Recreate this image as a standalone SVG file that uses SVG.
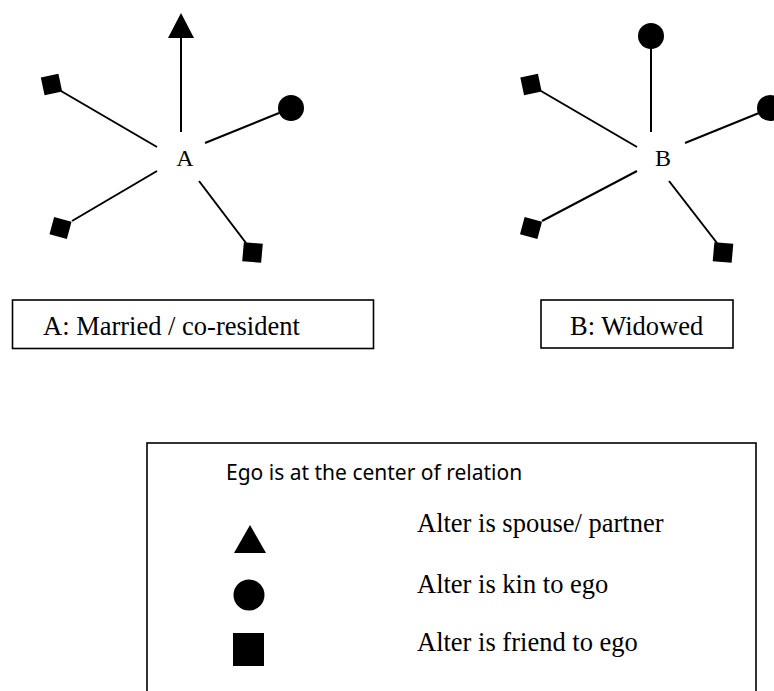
<svg xmlns="http://www.w3.org/2000/svg" width="774" height="691" viewBox="0 0 774 691">
  <style>
    .edge { stroke: #000; stroke-width: 2; fill: none; }
    .sq { fill: #000; }
    .dot { fill: #000; }
    .box { fill: #fff; stroke: #000; stroke-width: 1.6; }
    .serif { font-family: "Liberation Serif", "Times New Roman", serif; fill: #000; }
    .lbl { font-size: 26.5px; }
    .sans { font-family: "Noto Sans", "Open Sans", sans-serif; fill: #000; }
  </style>
  <rect width="774" height="691" fill="#fff"/>

  <g id="connectors">
    <line class="edge" x1="181" y1="132" x2="181" y2="36"/>
    <line class="edge" x1="157" y1="147" x2="61" y2="91"/>
    <line class="edge" x1="205" y1="143" x2="279" y2="113"/>
    <line class="edge" x1="157" y1="171" x2="72" y2="221"/>
    <line class="edge" x1="199" y1="181" x2="246" y2="243"/>

    <line class="edge" x1="651" y1="132" x2="651" y2="48"/>
    <line class="edge" x1="637" y1="147" x2="541" y2="91"/>
    <line class="edge" x1="685" y1="143" x2="759" y2="113"/>
    <line class="edge" x1="637" y1="171" x2="542" y2="221"/>
    <line class="edge" x1="669" y1="181" x2="717" y2="243"/>
  </g>

  <g id="ego-A">
    <text class="serif" x="185" y="166" font-size="24" text-anchor="middle">A</text>
  </g>
  <g id="A-spouse"><polygon class="dot" points="181,13 168,38 194,38"/></g>
  <g id="A-friend-1"><rect class="sq" x="-9" y="-9" width="18" height="18" transform="translate(51.5,84.5) rotate(-12)"/></g>
  <g id="A-kin-1"><circle class="dot" cx="291" cy="108" r="13"/></g>
  <g id="A-friend-2"><rect class="sq" x="-9" y="-9" width="18" height="18" transform="translate(60.5,228) rotate(15)"/></g>
  <g id="A-friend-3"><rect class="sq" x="-9.5" y="-9.5" width="19" height="19" transform="translate(252.5,252.5) rotate(5)"/></g>

  <g id="ego-B">
    <text class="serif" x="663" y="166" font-size="24" text-anchor="middle">B</text>
  </g>
  <g id="B-kin-1"><circle class="dot" cx="651" cy="36" r="13"/></g>
  <g id="B-friend-1"><rect class="sq" x="-9" y="-9" width="18" height="18" transform="translate(531,84.5) rotate(-12)"/></g>
  <g id="B-kin-2"><circle class="dot" cx="770" cy="108" r="13"/></g>
  <g id="B-friend-2"><rect class="sq" x="-9" y="-9" width="18" height="18" transform="translate(531,228) rotate(15)"/></g>
  <g id="B-friend-3"><rect class="sq" x="-9.5" y="-9.5" width="19" height="19" transform="translate(723,252.5) rotate(5)"/></g>

  <g id="label-A">
    <rect class="box" x="12.5" y="300" width="361" height="48.5"/>
    <text class="serif lbl" x="43" y="335">A: Married / co-resident</text>
  </g>
  <g id="label-B">
    <rect class="box" x="541" y="300" width="192" height="48"/>
    <text class="serif lbl" x="570" y="335">B: Widowed</text>
  </g>

  <g id="legend">
    <rect class="box" x="147" y="443" width="609" height="260"/>
    <text class="sans" x="226" y="480" font-size="21">Ego is at the center of relation</text>
    <polygon class="dot" points="250,525 234,553 266,553"/>
    <circle class="dot" cx="249" cy="595" r="15.5"/>
    <rect class="sq" x="233" y="633" width="31" height="33"/>
    <text class="serif lbl" x="417" y="532">Alter is spouse/ partner</text>
    <text class="serif lbl" x="417" y="593">Alter is kin to ego</text>
    <text class="serif lbl" x="417" y="651">Alter is friend to ego</text>
  </g>
</svg>
